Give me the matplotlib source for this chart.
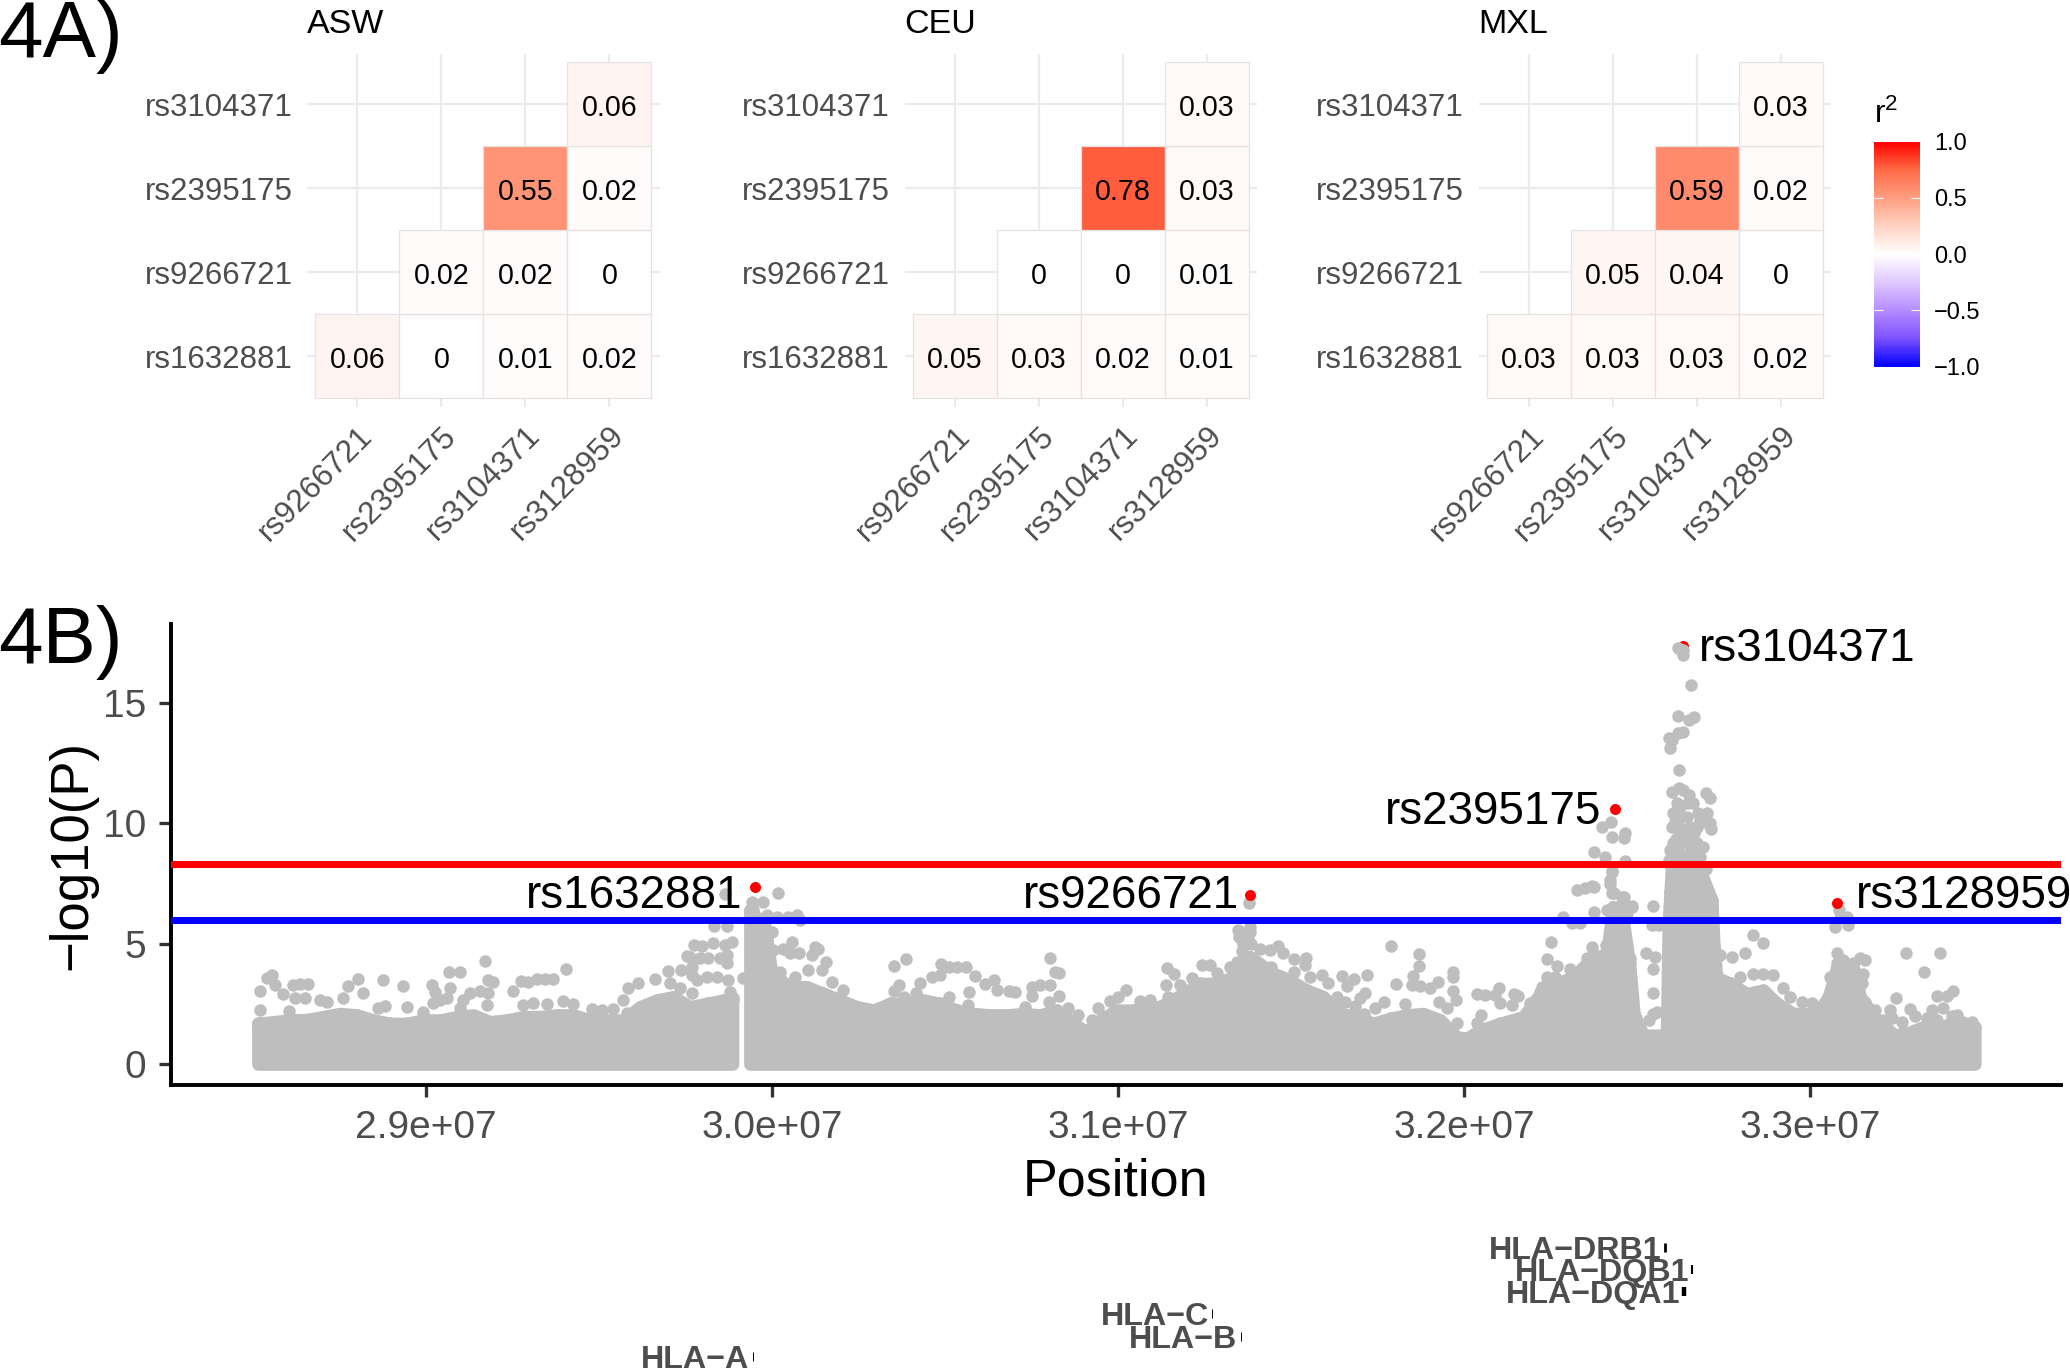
import numpy as np
import matplotlib
matplotlib.use('Agg')
import matplotlib.pyplot as plt
from matplotlib.colors import LinearSegmentedColormap, Normalize
from matplotlib.cm import ScalarMappable
from matplotlib.patches import Rectangle
from matplotlib.transforms import blended_transform_factory

plt.rcParams['font.family'] = ['Liberation Sans', 'DejaVu Sans']
plt.rcParams['mathtext.fontset'] = 'custom'
plt.rcParams['mathtext.rm'] = 'Liberation Sans'
plt.rcParams['mathtext.default'] = 'regular'

W, H = 2070, 1371
nan = np.nan

# LD panels, rows go bottom to top
snp_x = ['rs9266721', 'rs2395175', 'rs3104371', 'rs3128959']
snp_y = ['rs1632881', 'rs9266721', 'rs2395175', 'rs3104371']
pops = ['ASW', 'CEU', 'MXL']
asw = [[0.06, 0, 0.01, 0.02], [nan, 0.02, 0.02, 0], [nan, nan, 0.55, 0.02], [nan, nan, nan, 0.06]]
ceu = [[0.05, 0.03, 0.02, 0.01], [nan, 0, 0, 0.01], [nan, nan, 0.78, 0.03], [nan, nan, nan, 0.03]]
mxl = [[0.03, 0.03, 0.03, 0.02], [nan, 0.05, 0.04, 0], [nan, nan, 0.59, 0.02], [nan, nan, nan, 0.03]]

cbar_stops = [0, 0.125, 0.25, 0.375, 0.5, 0.625, 0.75, 0.875, 1]
cbar_colors = ['#0000FF', '#7D52FF', '#B48CFF', '#E0C9FF', '#FFFFFF',
               '#FFD2C2', '#FF9E81', '#FF6A47', '#FF0000']
cbar_ticks = [-1.0, -0.5, 0.0, 0.5, 1.0]

# manhattan: position in Mb, -log10(P)
# top of the solid grey mass, read along the x axis
mass_left = [(28.514, 1.69), (28.559, 1.76), (28.607, 1.83), (28.655, 1.85), (28.703, 1.97),
             (28.751, 2.10), (28.800, 2.04), (28.848, 1.83), (28.896, 1.69), (28.944, 1.69),
             (28.992, 1.83), (29.041, 1.83), (29.089, 1.97), (29.137, 2.04), (29.185, 1.76),
             (29.233, 1.83), (29.281, 1.97), (29.329, 1.97), (29.378, 2.04), (29.426, 2.04),
             (29.474, 1.83), (29.522, 1.83), (29.570, 1.83), (29.618, 2.38), (29.667, 2.66),
             (29.715, 2.80), (29.763, 2.38), (29.811, 2.52), (29.859, 2.66), (29.886, 2.66)]
mass_right = [(29.936, 6.40), (29.980, 5.70), (29.999, 3.77), (30.052, 3.21), (30.100, 3.21),
              (30.148, 2.94), (30.197, 2.66), (30.245, 2.38), (30.293, 2.24), (30.341, 2.52),
              (30.389, 2.52), (30.437, 2.66), (30.486, 2.52), (30.534, 2.24), (30.582, 2.10),
              (30.630, 2.04), (30.678, 2.04), (30.726, 2.10), (30.775, 2.04), (30.823, 2.24),
              (30.871, 1.69), (30.909, 1.34), (30.948, 1.83), (30.996, 2.24), (31.044, 2.24),
              (31.092, 2.24), (31.141, 2.52), (31.189, 2.94), (31.237, 3.35), (31.285, 3.35),
              (31.333, 3.63), (31.381, 4.46), (31.449, 3.77), (31.497, 3.49), (31.545, 3.07),
              (31.593, 2.80), (31.642, 2.10), (31.690, 1.97), (31.738, 1.69), (31.786, 1.90),
              (31.834, 2.04), (31.882, 2.10), (31.931, 1.83), (31.979, 1.13), (32.008, 1.07),
              (32.046, 1.41), (32.104, 1.69), (32.171, 1.97), (32.220, 2.93), (32.268, 3.35),
              (32.316, 3.63), (32.364, 4.32), (32.412, 4.60), (32.430, 6.54), (32.461, 5.84),
              (32.478, 4.18), (32.491, 2.10), (32.518, 1.20), (32.585, 1.20), (32.590, 5.84),
              (32.600, 8.33), (32.673, 8.33), (32.697, 7.50), (32.716, 6.80), (32.722, 4.90),
              (32.730, 3.60), (32.769, 3.35), (32.817, 2.93), (32.865, 3.07), (32.904, 2.52),
              (32.952, 2.10), (33.019, 2.10), (33.053, 2.79), (33.077, 4.04), (33.125, 4.04),
              (33.145, 2.79), (33.193, 1.83), (33.251, 1.13), (33.328, 1.55), (33.385, 1.55),
              (33.424, 1.83), (33.476, 1.55)]

# single grey dots standing above the mass
dots_a = [(28.520, 3.03), (28.540, 3.56), (28.556, 3.70), (28.564, 3.28), (28.588, 2.89), (28.617, 3.28),
          (28.636, 3.32), (28.660, 3.31), (28.621, 2.73), (28.650, 2.75), (28.520, 2.24), (28.605, 2.21),
          (28.694, 2.66), (28.715, 2.59), (28.759, 2.75), (28.774, 3.25), (28.804, 3.54), (28.818, 2.94),
          (28.875, 3.48), (28.933, 3.25), (28.862, 2.31), (28.881, 2.42), (28.944, 2.37), (28.992, 2.16),
          (29.018, 3.27), (29.026, 3.00), (29.021, 2.52), (29.041, 2.66), (29.060, 2.73), (29.069, 3.17),
          (29.067, 3.83), (29.098, 3.83), (29.169, 4.29), (29.180, 3.49), (29.195, 3.42), (29.127, 2.94),
          (29.108, 2.66), (29.156, 3.05), (29.180, 2.94), (29.175, 2.45), (29.098, 2.31), (29.252, 3.03),
          (29.275, 3.46), (29.296, 3.42), (29.320, 3.52), (29.344, 3.52), (29.368, 3.52), (29.404, 3.96),
          (29.281, 2.45), (29.310, 2.52), (29.349, 2.49), (29.397, 2.63), (29.426, 2.49), (29.479, 2.28),
          (29.508, 2.24), (29.541, 2.27), (29.580, 2.13), (29.570, 2.66), (29.585, 3.14), (29.614, 3.35),
          (29.662, 3.52), (29.700, 3.88), (29.736, 3.90), (29.753, 4.49), (29.773, 4.94), (29.797, 4.90),
          (29.830, 5.01), (29.864, 4.94), (29.883, 5.08), (29.869, 4.18), (29.768, 4.04), (29.705, 3.35),
          (29.734, 3.14), (29.833, 5.74), (29.869, 5.74), (29.864, 7.05), (29.782, 3.49), (29.811, 3.63),
          (29.840, 3.63), (29.874, 3.49), (29.879, 3.00), (29.888, 2.73), (29.768, 2.94), (29.763, 4.46),
          (29.869, 4.53), (29.816, 4.39), (29.792, 4.39), (29.850, 4.39), (29.768, 3.70)]
dots_b = [(30.017, 7.09), (29.941, 6.74), (29.973, 6.74), (29.946, 6.40), (29.985, 6.19), (30.013, 6.12),
          (30.047, 6.12), (30.073, 6.19), (30.081, 5.98), (29.999, 5.50), (30.004, 4.74), (30.033, 4.80),
          (30.057, 5.08), (30.052, 4.60), (30.079, 4.60), (30.124, 4.85), (30.134, 4.76), (30.115, 4.53),
          (30.156, 4.25), (30.144, 3.90), (30.105, 3.90), (30.023, 3.84), (30.066, 3.63), (29.917, 3.56),
          (30.172, 3.42), (30.206, 3.07), (30.351, 4.07), (30.386, 4.35), (30.368, 3.28), (30.351, 3.05),
          (30.380, 2.80), (30.415, 2.94), (30.428, 3.35), (30.461, 3.63), (30.486, 3.70), (30.488, 4.15),
          (30.510, 4.04), (30.534, 4.04), (30.560, 4.04), (30.587, 3.65), (30.614, 3.32), (30.642, 3.49),
          (30.649, 3.07), (30.686, 3.03), (30.702, 2.98), (30.569, 3.00), (30.510, 2.77), (30.802, 4.39),
          (30.818, 3.84), (30.828, 3.79), (30.803, 3.28), (30.775, 3.28), (30.750, 3.21), (30.750, 2.82),
          (30.828, 2.82), (30.799, 2.59), (30.731, 2.38), (30.567, 2.45), (30.885, 2.03), (30.856, 2.31),
          (30.943, 2.31), (30.924, 1.85), (30.977, 2.63), (31.001, 2.80), (31.022, 3.07), (31.064, 2.63),
          (31.092, 2.66), (31.141, 3.97), (31.163, 3.74), (31.138, 3.28), (31.179, 3.28), (31.145, 2.77),
          (31.213, 3.56), (31.242, 4.11), (31.266, 4.11), (31.285, 3.77), (31.324, 4.02), (31.343, 4.25),
          (31.357, 4.71), (31.348, 5.57), (31.350, 5.26), (31.377, 6.67), (31.381, 5.71), (31.360, 5.00),
          (31.375, 5.20), (31.385, 5.00)]
dots_c = [(31.353, 5.50), (31.381, 5.50), (31.410, 4.80), (31.439, 4.74), (31.463, 4.90), (31.478, 4.60),
          (31.507, 4.36), (31.542, 4.39), (31.540, 4.11), (31.441, 4.02), (31.507, 3.84), (31.589, 3.70),
          (31.555, 3.63), (31.608, 3.35), (31.646, 3.67), (31.682, 3.52), (31.661, 3.24), (31.719, 3.70),
          (31.714, 2.94), (31.699, 2.73), (31.685, 2.41), (31.632, 2.80), (31.656, 2.59), (31.743, 2.34),
          (31.769, 2.59), (31.830, 2.49), (31.711, 2.08), (31.789, 4.92), (31.870, 4.56), (31.871, 4.07),
          (31.803, 3.31), (31.851, 3.67), (31.849, 3.28), (31.873, 3.24), (31.900, 3.14), (31.924, 3.39),
          (31.969, 3.81), (31.969, 3.63), (31.967, 3.03), (31.976, 2.66), (31.928, 2.59), (31.950, 2.31),
          (31.979, 1.69), (32.037, 2.93), (32.061, 2.87), (32.090, 2.87), (32.102, 3.17), (32.104, 2.52),
          (32.145, 2.93), (32.157, 2.82), (32.138, 2.45), (32.189, 2.52), (32.048, 2.03), (32.037, 1.69),
          (32.250, 5.05), (32.241, 4.35), (32.268, 4.07), (32.306, 3.93), (32.239, 3.63), (32.263, 3.63),
          (32.224, 3.21), (32.220, 3.00), (32.369, 4.87), (32.409, 4.94), (32.355, 4.39), (32.446, 5.22),
          (32.456, 4.87), (32.480, 4.39), (32.287, 6.09), (32.311, 5.84), (32.335, 5.84), (32.374, 6.33),
          (32.326, 7.23), (32.350, 7.30), (32.371, 7.41), (32.427, 7.99), (32.422, 7.64), (32.427, 7.09),
          (32.461, 6.95), (32.441, 6.54), (32.485, 6.54), (32.412, 6.40), (32.460, 5.64), (32.456, 5.98),
          (32.431, 6.12), (32.470, 6.26)]
dots_d = [(32.398, 9.86), (32.424, 10.07), (32.427, 9.42), (32.461, 9.37), (32.465, 9.58), (32.408, 8.61),
          (32.376, 8.82), (32.465, 8.45), (32.427, 8.00), (32.422, 7.50), (32.432, 7.09), (32.456, 6.95),
          (32.485, 6.56), (32.374, 7.36), (32.461, 6.54), (32.617, 17.27), (32.632, 17.20), (32.632, 16.99),
          (32.655, 15.74), (32.617, 14.46), (32.651, 14.29), (32.665, 14.43), (32.634, 13.81), (32.617, 13.74),
          (32.591, 13.53), (32.600, 13.46), (32.595, 13.11), (32.621, 12.21), (32.600, 11.29), (32.620, 11.45),
          (32.651, 11.17), (32.700, 11.27), (32.711, 11.04), (32.661, 10.83), (32.605, 10.44), (32.624, 10.69),
          (32.677, 10.41), (32.701, 10.44), (32.711, 10.00), (32.713, 9.75), (32.672, 9.86), (32.644, 10.27),
          (32.620, 9.86), (32.613, 9.33), (32.653, 9.30), (32.663, 9.58), (32.617, 8.96), (32.663, 8.89),
          (32.591, 8.47), (32.690, 7.71), (32.596, 7.16), (32.711, 6.95), (32.596, 6.40), (32.701, 6.46),
          (32.706, 5.70), (32.545, 6.56), (32.542, 5.77), (32.562, 5.77), (32.526, 4.60), (32.552, 4.46),
          (32.547, 3.93), (32.545, 2.97), (32.547, 2.10), (32.557, 2.17), (32.533, 1.83), (32.740, 4.53),
          (32.774, 4.46), (32.812, 4.60), (32.836, 5.36), (32.865, 5.01), (32.798, 3.63), (32.836, 3.76),
          (32.865, 3.76), (32.894, 3.70), (32.921, 3.14), (32.942, 2.80), (32.976, 2.59), (33.005, 2.52),
          (33.072, 5.70), (33.087, 6.05), (33.106, 6.12), (33.108, 5.77), (33.077, 4.60), (33.143, 4.39),
          (33.159, 4.32), (33.082, 6.40), (33.154, 3.76), (33.149, 3.35), (33.159, 2.59), (33.188, 2.24),
          (33.249, 2.75), (33.231, 2.24), (33.278, 4.60), (33.376, 4.60), (33.328, 3.83), (33.366, 2.82),
          (33.395, 2.82), (33.412, 3.04), (33.289, 2.27), (33.265, 1.76), (33.352, 2.24), (33.385, 2.31),
          (33.424, 2.03), (33.467, 1.76)]
# extra dots filling the main peak and the edges of the smaller ones
dots_e = [(32.591, 8.33), (32.605, 9.17), (32.643, 9.17), (32.624, 9.58), (32.653, 9.86), (32.629, 10.27),
          (32.648, 10.83), (32.615, 10.83), (32.634, 11.38), (32.600, 9.86), (32.682, 8.61), (32.697, 10.07),
          (32.682, 10.14), (32.668, 9.72), (32.672, 9.17), (32.653, 8.75), (32.619, 8.89), (32.595, 8.89),
          (32.610, 10.10), (32.635, 9.70), (32.640, 8.60), (32.610, 8.60), (32.690, 9.00), (32.700, 8.10),
          (33.063, 3.14), (33.077, 4.18), (33.096, 4.32), (33.125, 4.18), (33.140, 3.62), (33.058, 3.62),
          (33.211, 1.85), (33.236, 1.92), (33.265, 1.30), (33.303, 1.99), (33.337, 1.92), (33.366, 1.85),
          (33.409, 1.99), (33.429, 1.71), (33.453, 1.57)]

# the named SNPs
lead_names = ['rs1632881', 'rs9266721', 'rs2395175', 'rs3104371', 'rs3128959']
lead_pos = [29.951, 31.380, 32.436, 32.632, 33.079]
lead_val = [7.35, 7.02, 10.59, 17.37, 6.67]

genes = ['HLA−A', 'HLA−B', 'HLA−C', 'HLA−DRB1', 'HLA−DQA1', 'HLA−DQB1']
gene_pos = [29.945, 31.355, 31.272, 32.580, 32.635, 32.660]

thresholds = [8.3, 6.0]
x_ticks = [29, 30, 31, 32, 33]
x_labels = ['2.9e+07', '3.0e+07', '3.1e+07', '3.2e+07', '3.3e+07']
y_ticks = [0, 5, 10, 15]

GREY_TXT = '#4D4D4D'
GREY_DOT = '#BEBEBE'


def px_axes(left, top, right, bottom):
    return fig.add_axes([left / W, 1 - bottom / H, (right - left) / W, (bottom - top) / H])


fig = plt.figure(figsize=(W / 100, H / 100), dpi=100)
cmap = LinearSegmentedColormap.from_list('r2', list(zip(cbar_stops, cbar_colors)))
norm = Normalize(-1, 1)

# --- panel A ---
panel_lefts = [307, 904.6, 1478.6]
for name, vals, left in zip(pops, [asw, ceu, mxl], panel_lefts):
    ax = px_axes(left, 54, left + 352.8, 406.8)
    ax.grid(True, color='#EBEBEB', lw=1.6, zorder=0)
    ax.set_axisbelow(True)
    for i in range(4):
        for j in range(4):
            v = vals[i][j]
            if np.isnan(v):
                continue
            ax.add_patch(Rectangle((j - 0.5, i - 0.5), 1, 1, facecolor=cmap(norm(v)),
                                   edgecolor='#E6E2E0', lw=0.9, zorder=2))
            ax.text(j, i - 0.04, '%g' % v, ha='center', va='center', fontsize=20.6, color='black', zorder=3)
    ax.set_xlim(-0.6, 3.6)
    ax.set_ylim(-0.6, 3.6)
    ax.set_xticks(range(4))
    ax.set_yticks(range(4))
    ax.set_yticklabels(snp_y)
    ax.set_xticklabels(snp_x, rotation=45, ha='right', va='top', rotation_mode='anchor')
    ax.tick_params(length=0, labelcolor=GREY_TXT, labelsize=22.5)
    ax.tick_params(axis='y', pad=10.5)
    ax.tick_params(axis='x', pad=10)
    for s in ax.spines.values():
        s.set_visible(False)
    ax.set_title(name, loc='left', fontsize=24.5, pad=15, color='black')

# colourbar
cax = px_axes(1874, 141.5, 1920, 366.7)
cb = fig.colorbar(ScalarMappable(norm=norm, cmap=cmap), cax=cax, ticks=cbar_ticks)
cb.outline.set_visible(False)
cb.ax.tick_params(length=0, pad=10, labelsize=17, labelcolor='black')
cb.ax.hlines(cbar_ticks, 0, 0.2, color='white', lw=0.8)
cb.ax.hlines(cbar_ticks, 0.8, 1, color='white', lw=0.8)
cb.ax.text(0, 1.12, 'r$^{2}$', transform=cb.ax.transAxes, fontsize=23, ha='left', va='center')

# --- panel B ---
ax = px_axes(171, 624, 2061, 1085)
for mass in (mass_left, mass_right):
    mx, my = zip(*mass)
    ax.fill_between(mx, 0, my, color=GREY_DOT, lw=9, joinstyle='round', zorder=2)
    ax.scatter(mx, my, s=81, color=GREY_DOT, lw=0, zorder=2)

ax.scatter([lead_pos[3]], [lead_val[3]], s=63, color='red', lw=0, zorder=2.5)
for dots in (dots_a, dots_b, dots_c, dots_d, dots_e):
    dx, dy = zip(*dots)
    ax.scatter(dx, dy, s=81, color=GREY_DOT, lw=0, zorder=3)
for y, c in zip(thresholds, ['red', 'blue']):
    ax.axhline(y, color=c, lw=5, zorder=4)
ax.scatter(lead_pos[:3] + lead_pos[4:], lead_val[:3] + lead_val[4:], s=63, color='red', lw=0, zorder=5)

# label offsets in pixels from each point
label_off = [(-13, -9, 'right'), (-10, -1, 'right'), (-14, -3, 'right'), (16, -3, 'left'), (18, 7, 'left')]
for n, px, py, (ox, oy, ha) in zip(lead_names, lead_pos, lead_val, label_off):
    ax.annotate(n, (px, py), xytext=(ox, oy), textcoords='offset pixels', ha=ha, va='center',
                fontsize=33, color='black', zorder=6, annotation_clip=False)

ax.set_xlim(28.263, 33.725)
ax.set_ylim(-0.87, 18.28)
ax.set_xticks(x_ticks)
ax.set_xticklabels(x_labels)
ax.set_yticks(y_ticks)
ax.tick_params(length=8.6, width=2.4, color='#333333', labelcolor=GREY_TXT, labelsize=28, pad=9.5)
for s in ['top', 'right']:
    ax.spines[s].set_visible(False)
for s in ['left', 'bottom']:
    ax.spines[s].set_linewidth(2.8)
ax.set_xlabel('Position', fontsize=37.5, labelpad=8)
ax.set_ylabel('−log10(P)', fontsize=38, labelpad=4)

# gene names under the axis
gene_rows = [1360, 1340, 1317, 1251, 1295, 1273]
tick_lw = [0.7, 0.7, 0.7, 2, 3.2, 1.5]
trans = blended_transform_factory(ax.transData, fig.transFigure)
for g, p, r, lw in zip(genes, gene_pos, gene_rows, tick_lw):
    ax.text(p - 0.010, 1 - r / H, g, transform=trans, ha='right', va='center', fontsize=23.2,
            fontweight='bold', color=GREY_TXT, clip_on=False)
    ax.plot([p, p], [1 - (r + 1) / H, 1 - (r - 8) / H], transform=trans, color='black',
            lw=lw, clip_on=False, solid_capstyle='butt')

fig.text(-2 / W, 1 - 57 / H, '4A)', fontsize=57.6, va='baseline', ha='left', color='black')
fig.text(-2 / W, 1 - 663 / H, '4B)', fontsize=57.6, va='baseline', ha='left', color='black')

fig.savefig('out.png', dpi=100)
